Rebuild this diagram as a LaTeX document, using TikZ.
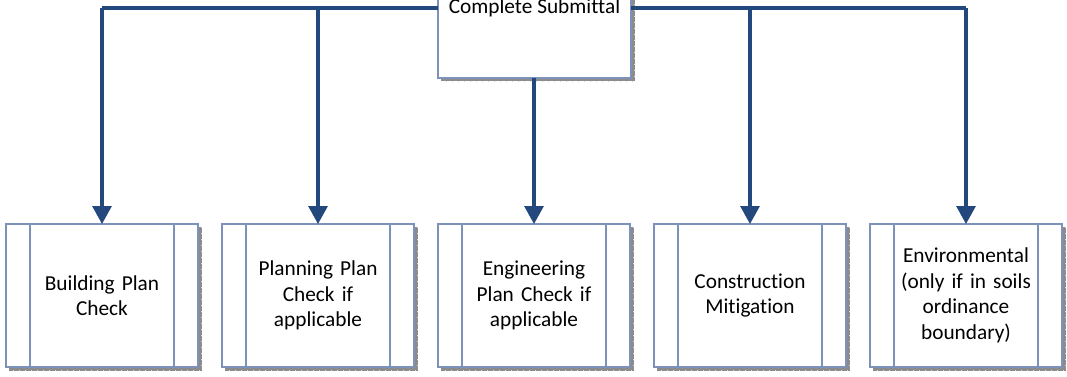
\documentclass[tikz,border=0pt]{standalone}
\usepackage{fontspec}
\setmainfont[Ligatures=NoCommon]{Carlito}
\usetikzlibrary{arrows.meta}
\definecolor{boxline}{RGB}{124,146,186}
\definecolor{arrowblue}{RGB}{35,72,125}
\definecolor{shadowgray}{RGB}{140,140,140}
\tikzset{
  conn/.style={draw=arrowblue,line width=3.2pt},
  arr/.style={conn,-{Triangle[width=19pt,length=18pt]}},
  boxdraw/.style={draw=boxline,line width=1.8pt},
  lbl/.style={font=\fontsize{21.3}{25.5}\selectfont,align=center,text width=150pt,inner sep=0pt},
}
\newcommand{\procbox}[3]{% name, left x, text
  \fill[shadowgray] (#2+3,227) rectangle (#2+195.5,370.5);
  \draw[white!85!black,line width=0.6pt,dash pattern=on 1pt off 5pt] (#2+195,227) -- (#2+195,370) -- (#2+3,370);
  \fill[white] (#2,224) rectangle (#2+192,367);
  \draw[boxdraw] (#2,224) rectangle (#2+192,367);
  \draw[boxdraw] (#2+24,224) -- (#2+24,367);
  \draw[boxdraw] (#2+168,224) -- (#2+168,367);
  \node[lbl] (#1) at (#2+96,295.5) {#3};
  \coordinate (#1top) at (#2+96,224);
}
\begin{document}
\begin{tikzpicture}[x=1pt,y=-1pt]
\useasboundingbox (0,0) rectangle (1067,377);
% top box
\fill[shadowgray] (441,-20) rectangle (634.5,81.5);
\draw[white!85!black,line width=0.6pt,dash pattern=on 1pt off 5pt] (634,-20) -- (634,81) -- (441,81);
\fill[white] (438,-20) rectangle (631,78);
\draw[boxdraw] (438,-20) rectangle (631,78);
\node[font=\fontsize{21.3}{25.5}\selectfont,inner sep=0pt] (cs) at (534.5,8) {Complete Submittal};
\coordinate (csL) at (438,8);
\coordinate (csR) at (631,8);
\coordinate (csB) at (534,78);
\procbox{b1}{6}{Building Plan\\Check}
\procbox{b2}{222}{Planning Plan\\Check if\\applicable}
\procbox{b3}{438}{Engineering\\Plan Check if\\applicable}
\procbox{b4}{654}{Construction\\Mitigation}
\procbox{b5}{870}{Environmental\\(only if in soils\\ordinance\\boundary)}
\draw[conn] (csL) -- (b2top |- csL);
\draw[conn] (b2top |- csL) -- (b1top |- csL);
\draw[conn] (csR) -- (b5top |- csL);
\draw[arr] (b1top |- csL) -- (b1top);
\draw[arr] (b2top |- csL) -- (b2top);
\draw[arr] (csB) -- (b3top);
\draw[arr] (b4top |- csR) -- (b4top);
\draw[arr] (b5top |- csR) -- (b5top);
\end{tikzpicture}
\end{document}
